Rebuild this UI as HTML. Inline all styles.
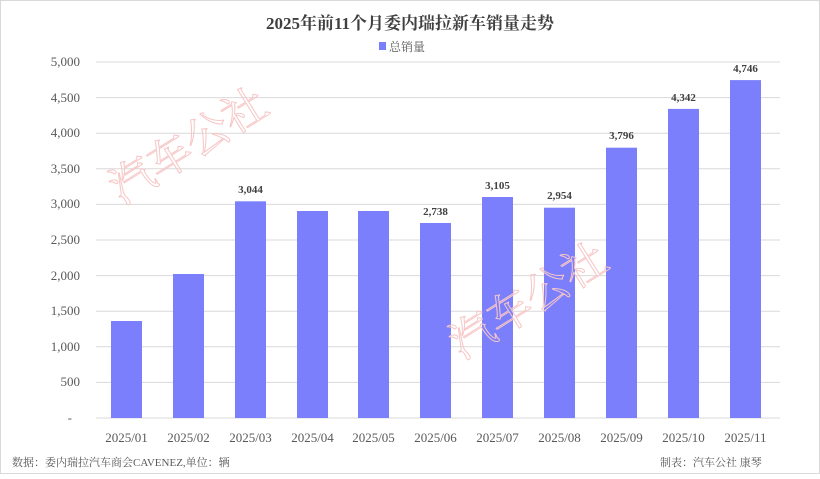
<!DOCTYPE html>
<html><head><meta charset="utf-8"><style>
body{margin:0;background:#fff;}
svg text{font-family:"Liberation Serif","Noto Serif CJK SC",serif;}
</style></head><body>
<svg width="820" height="474" xmlns="http://www.w3.org/2000/svg">
<rect x="0.5" y="0.5" width="819" height="473" fill="#fff" stroke="#d9d9d9"/>
<text x="410" y="29" text-anchor="middle" font-size="17" font-weight="bold" fill="#404040">2025年前11个月委内瑞拉新车销量走势</text>
<rect x="379" y="42" width="7" height="8" fill="#7b7ffc"/>
<text x="389" y="51" font-size="12" fill="#595959">总销量</text>
<g stroke="#d9d9d9" stroke-width="1">
<line x1="96" y1="62" x2="780" y2="62"/><line x1="96" y1="97.6" x2="780" y2="97.6"/>
<line x1="96" y1="133.2" x2="780" y2="133.2"/><line x1="96" y1="168.8" x2="780" y2="168.8"/>
<line x1="96" y1="204.4" x2="780" y2="204.4"/><line x1="96" y1="240" x2="780" y2="240"/>
<line x1="96" y1="275.6" x2="780" y2="275.6"/><line x1="96" y1="311.2" x2="780" y2="311.2"/>
<line x1="96" y1="346.8" x2="780" y2="346.8"/><line x1="96" y1="382.4" x2="780" y2="382.4"/>
<line x1="96" y1="418" x2="780" y2="418"/>
</g>
<g font-size="13" fill="#595959" text-anchor="end">
<text x="80" y="66">5,000</text><text x="80" y="102">4,500</text><text x="80" y="137">4,000</text>
<text x="80" y="173">3,500</text><text x="80" y="208">3,000</text><text x="80" y="244">2,500</text>
<text x="80" y="280">2,000</text><text x="80" y="315">1,500</text><text x="80" y="351">1,000</text>
<text x="80" y="386">500</text><text x="72" y="422">-</text>
</g>
<g fill="#7b7ffc">
<rect x="111" y="321" width="31" height="97"/>
<rect x="173" y="274" width="31" height="144"/>
<rect x="235" y="201.3" width="31" height="216.7"/>
<rect x="297" y="211" width="31" height="207"/>
<rect x="358" y="211" width="31" height="207"/>
<rect x="420" y="223" width="31" height="195"/>
<rect x="482" y="197" width="31" height="221"/>
<rect x="544" y="207.7" width="31" height="210.3"/>
<rect x="606" y="147.7" width="31" height="270.3"/>
<rect x="668" y="108.9" width="31" height="309.1"/>
<rect x="730" y="80.1" width="31" height="337.9"/>
</g>
<g font-size="11" font-weight="bold" fill="#404040" text-anchor="middle">
<text x="250.5" y="193">3,044</text><text x="435.5" y="215">2,738</text>
<text x="497.5" y="189">3,105</text><text x="559.5" y="199">2,954</text>
<text x="621.5" y="139">3,796</text><text x="683.5" y="101">4,342</text>
<text x="745.5" y="72">4,746</text>
</g>
<g font-size="13" fill="#595959" text-anchor="middle">
<text x="126.5" y="442">2025/01</text><text x="188.5" y="442">2025/02</text><text x="250.5" y="442">2025/03</text>
<text x="312.5" y="442">2025/04</text><text x="373.5" y="442">2025/05</text><text x="435.5" y="442">2025/06</text>
<text x="497.5" y="442">2025/07</text><text x="559.5" y="442">2025/08</text><text x="621.5" y="442">2025/09</text>
<text x="683.5" y="442">2025/10</text><text x="745.5" y="442">2025/11</text>
</g>
<g font-size="11" fill="#595959">
<text x="12" y="466">数据：委内瑞拉汽车商会CAVENEZ,单位：辆</text>
<text x="660" y="466">制表：汽车公社 康琴</text>
</g>
<g font-size="44" fill="none" stroke="#f7c6c6" stroke-width="1" font-family="Liberation Sans,Noto Sans CJK SC,sans-serif">
<text transform="translate(122,205) rotate(-32)">汽车公社</text>
<text transform="translate(462,360) rotate(-32)">汽车公社</text>
</g>
</svg>
</body></html>
